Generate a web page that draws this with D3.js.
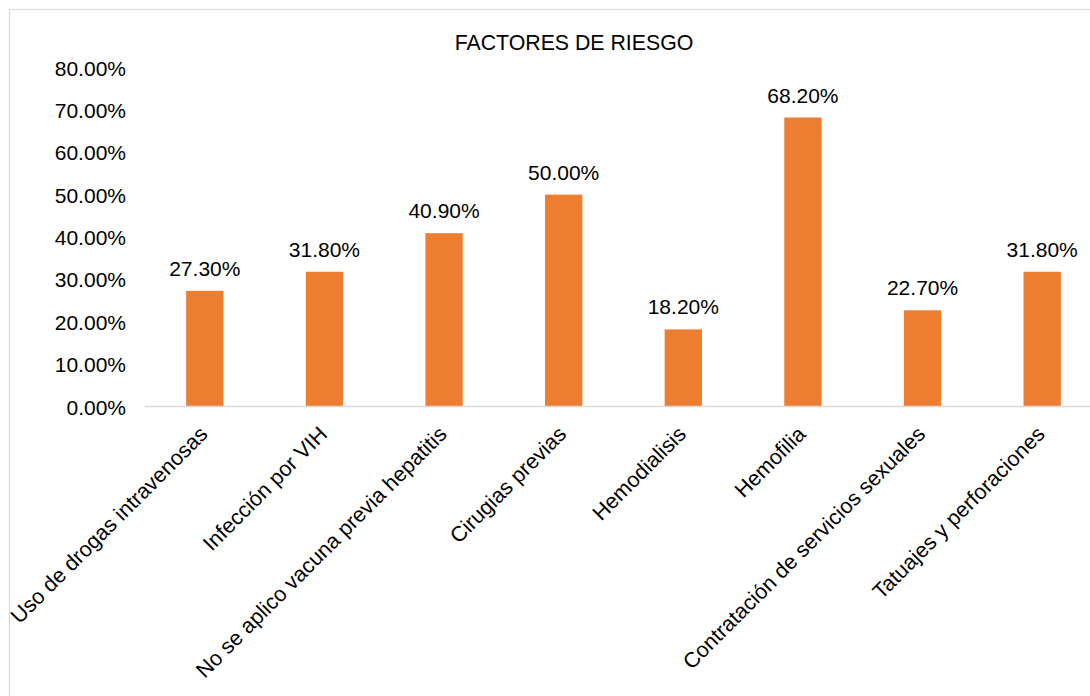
<!DOCTYPE html>
<html>
<head>
<meta charset="utf-8">
<script src="https://cdn.jsdelivr.net/npm/d3@7"></script>
<style>
  html, body { margin: 0; padding: 0; background: #fff; overflow: hidden; }
  svg { display: block; font-family: "Liberation Sans", Arial, sans-serif; }
</style>
</head>
<body>
<svg id="chart" width="1090" height="696"></svg>
<script>
// Risk factors and their share of cases (%)
const categories = [
  "Uso de drogas intravenosas",
  "Infección por VIH",
  "No se aplico vacuna previa hepatitis",
  "Cirugias previas",
  "Hemodialisis",
  "Hemofilia",
  "Contratación de servicios sexuales",
  "Tatuajes y perforaciones"
];
const values = [27.3, 31.8, 40.9, 50.0, 18.2, 68.2, 22.7, 31.8];
const yTicks = [0, 10, 20, 30, 40, 50, 60, 70, 80];
const title = "FACTORES DE RIESGO";

const W = 1090, H = 696;
const svg = d3.select("#chart");

// Chart frame (extends past the right and bottom edges)
svg.append("rect")
  .attr("x", 9.5).attr("y", 9.5)
  .attr("width", W + 20).attr("height", H + 20)
  .attr("fill", "#fff")
  .attr("stroke", "#d9d9d9")
  .attr("stroke-width", 1.2);

const plot = { left: 145, right: 1102, top: 67.5, bottom: 406.5 };

const x = d3.scaleBand()
  .domain(categories)
  .range([plot.left, plot.right])
  .paddingInner(0.688)
  .paddingOuter(0.344);

const y = d3.scaleLinear()
  .domain([0, 80])
  .range([plot.bottom, plot.top]);

// Title
svg.append("text")
  .attr("x", 574).attr("y", 49.5)
  .attr("text-anchor", "middle")
  .attr("font-size", 21.3)
  .attr("fill", "#000")
  .text(title);

// Y axis tick labels
const yAxis = d3.axisLeft(y)
  .tickValues(yTicks)
  .tickSize(0)
  .tickPadding(0)
  .tickFormat(d => d3.format(".2f")(d) + "%");

const gy = svg.append("g")
  .attr("transform", `translate(126,0)`)
  .call(yAxis);
gy.select(".domain").remove();
gy.selectAll("text")
  .attr("font-size", 21)
  .attr("font-family", "Liberation Sans, Arial, sans-serif")
  .attr("fill", "#000")
  .attr("dy", "0.36em");

// Bars
svg.append("g")
  .selectAll("rect")
  .data(values)
  .join("rect")
  .attr("x", (d, i) => x(categories[i]))
  .attr("y", d => y(d))
  .attr("width", x.bandwidth())
  .attr("height", d => y(0) - y(d))
  .attr("fill", "#ED7D31");

// Baseline axis line
svg.append("line")
  .attr("x1", plot.left).attr("x2", plot.right)
  .attr("y1", y(0)).attr("y2", y(0))
  .attr("stroke", "#d9d9d9")
  .attr("stroke-width", 1.5);

// Value labels above bars
svg.append("g")
  .selectAll("text")
  .data(values)
  .join("text")
  .attr("x", (d, i) => x(categories[i]) + x.bandwidth() / 2)
  .attr("y", d => y(d) - 15)
  .attr("text-anchor", "middle")
  .attr("font-size", 21)
  .attr("fill", "#000")
  .text(d => d3.format(".2f")(d) + "%");

// Rotated category labels
svg.append("g")
  .selectAll("text")
  .data(categories)
  .join("text")
  .attr("transform", d => `translate(${x(d) + x.bandwidth() / 2 + 4},${y(0) + 29}) rotate(-45)`)
  .attr("text-anchor", "end")
  .attr("font-size", 21.5)
  .attr("fill", "#000")
  .text(d => d);
</script>
</body>
</html>
